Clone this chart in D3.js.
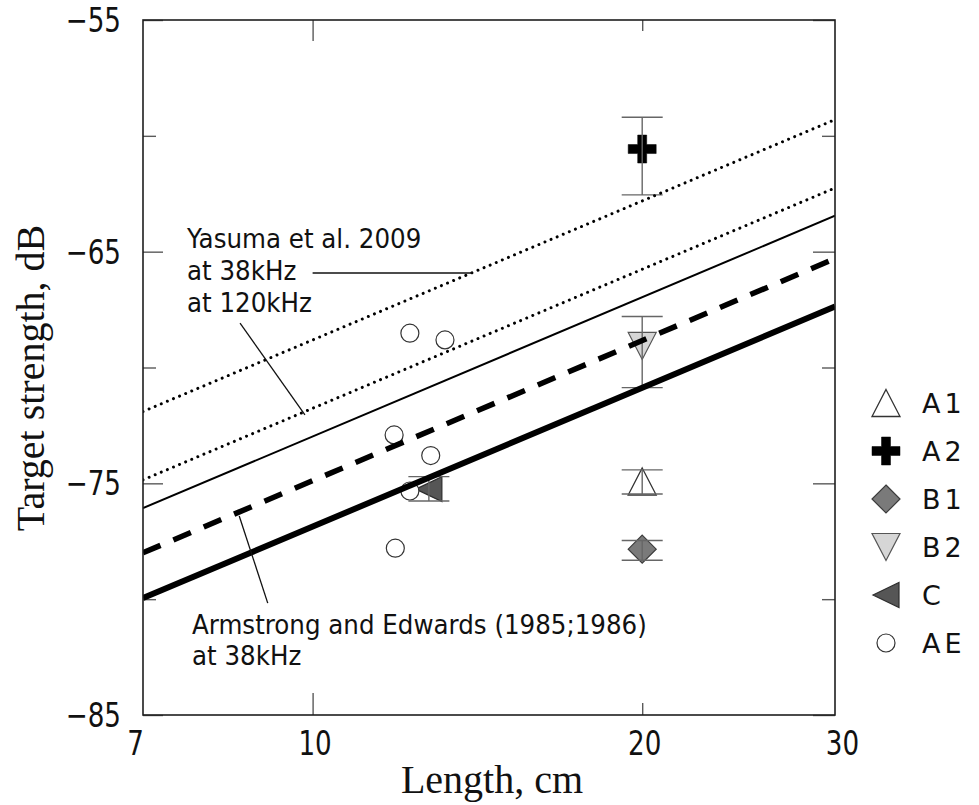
<!DOCTYPE html>
<html>
<head>
<meta charset="utf-8">
<script src="https://cdn.jsdelivr.net/npm/d3@7"></script>
<style>
  html, body { margin: 0; padding: 0; background: #fff; }
  svg { display: block; }
</style>
</head>
<body>
<svg id="chart" width="979" height="805"></svg>
<script>
// ---- data -------------------------------------------------------------
// Axis ticks
const xTickLabels = [7, 10, 20, 30];
const xMajorTicks = [10];
const xMinorTicks = [20];
const yTickLabels = [-85, -75, -65, -55];
const yMinorTicks = [-80, -70, -60];

// Observed target strength by group: body length (cm), mean TS (dB),
// lower and upper error limits (dB)
const seriesNames = ["A1", "A2", "B1", "B2", "C", "AE"];
const a1Length = [20],    a1TS = [-74.92], a1Lo = [-75.46], a1Hi = [-74.42];
const a2Length = [20],    a2TS = [-60.57], a2Lo = [-62.55], a2Hi = [-59.20];
const b1Length = [20],    b1TS = [-77.84], b1Lo = [-78.32], b1Hi = [-77.47];
const b2Length = [20],    b2TS = [-69.07], b2Lo = [-70.87], b2Hi = [-67.80];
const cLength  = [12.77], cTS  = [-75.25], cLo  = [-75.76], cHi  = [-74.71];
const aeLength = [12.27, 13.21, 11.87, 12.82, 12.27, 11.90];
const aeTS     = [-68.52, -68.81, -72.91, -73.80, -75.33, -77.80];

// TS-length relationships: TS at L = 7 cm and L = 30 cm
const relNames  = ["Yasuma 38kHz", "Yasuma 120kHz", "Model", "Armstrong and Edwards 38kHz", "Model 2"];
const relLength = [7, 30];
const relTS = [
  [-71.90, -59.30],
  [-74.85, -62.25],
  [-76.07, -63.45],
  [-78.00, -65.30],
  [-79.95, -67.37]
];

// ---- layout ----------------------------------------------------------
const W = 979, H = 805;
const plot = { left: 143, top: 20, right: 835, bottom: 715 };

const svg = d3.select("#chart");
svg.append("rect").attr("width", W).attr("height", H).attr("fill", "#fff");

const x = d3.scaleLog().domain([7, 30]).range([plot.left, plot.right]);
const y = d3.scaleLinear().domain([-85, -55]).range([plot.bottom, plot.top]);

const sansFont = "'DejaVu Sans', sans-serif";
const tickColor = "#5a5a5a";
// horizontal squeeze giving the narrow sans lettering
const tickSqueeze = 0.77;
const annoSqueeze = 0.91;

// ---- tick marks (inside the frame, all four sides) --------------------
function drawTicks(axisFn, scale, values, size, translate) {
  const g = svg.append("g")
    .attr("transform", translate)
    .call(axisFn(scale).tickValues(values).tickSize(size).tickSizeOuter(0).tickFormat(""));
  g.select(".domain").remove();
  g.selectAll(".tick line").attr("stroke", tickColor).attr("stroke-width", 1.4);
}

// bottom / top
drawTicks(d3.axisBottom, x, xMajorTicks, -22, `translate(0,${plot.bottom})`);
drawTicks(d3.axisBottom, x, xMinorTicks, -12, `translate(0,${plot.bottom})`);
drawTicks(d3.axisTop, x, xMajorTicks, -21, `translate(0,${plot.top})`);
drawTicks(d3.axisTop, x, xMinorTicks, -11, `translate(0,${plot.top})`);
// left / right
drawTicks(d3.axisLeft, y, yTickLabels, -20, `translate(${plot.left},0)`);
drawTicks(d3.axisLeft, y, yMinorTicks, -13, `translate(${plot.left},0)`);
drawTicks(d3.axisRight, y, yTickLabels, -22, `translate(${plot.right},0)`);
drawTicks(d3.axisRight, y, yMinorTicks, -13, `translate(${plot.right},0)`);

// ---- tick labels ------------------------------------------------------
const xLab = svg.append("g")
  .attr("transform", `translate(0,${plot.bottom})`)
  .call(d3.axisBottom(x).tickValues(xTickLabels).tickSize(0).tickPadding(0).tickFormat(d3.format("d")));
xLab.select(".domain").remove();
xLab.selectAll(".tick text")
  .attr("y", 40).attr("dy", 0)
  .attr("x", (d, i) => (i === 0 ? -8 : (i === xTickLabels.length - 1 ? 7 : 2)) / tickSqueeze)
  .attr("transform", `scale(${tickSqueeze},1)`)
  .attr("font-family", sansFont).attr("font-size", 34).attr("fill", "#111");

const yLab = svg.append("g")
  .attr("transform", `translate(${plot.left},0)`)
  .call(d3.axisLeft(y).tickValues(yTickLabels).tickSize(0).tickPadding(0).tickFormat(d => "\u2212" + Math.abs(d)));
yLab.select(".domain").remove();
yLab.selectAll(".tick text")
  .attr("x", -22 / tickSqueeze)
  .attr("dy", 11.5)
  .attr("transform", `scale(${tickSqueeze},1)`)
  .attr("font-family", sansFont).attr("font-size", 34).attr("fill", "#111");

// ---- axis titles ------------------------------------------------------
svg.append("text")
  .attr("x", 492).attr("y", 793)
  .attr("text-anchor", "middle")
  .attr("font-family", "'Liberation Serif', 'Times New Roman', serif")
  .attr("font-size", 40).attr("fill", "#111")
  .text("Length, cm");

svg.append("text")
  .attr("transform", "translate(44,378) rotate(-90)")
  .attr("text-anchor", "middle")
  .attr("font-family", "'Liberation Serif', 'Times New Roman', serif")
  .attr("font-size", 40).attr("fill", "#111")
  .text("Target strength, dB");

// ---- marker shapes ----------------------------------------------------
const shapes = {
  triUp:   (w, h) => `M0,${-h/2}L${w/2},${h/2}L${-w/2},${h/2}Z`,
  triDown: (w, h) => `M${-w/2},${-h/2}L${w/2},${-h/2}L0,${h/2}Z`,
  triLeft: (w, h) => `M${-w/2},0L${w/2},${-h/2}L${w/2},${h/2}Z`,
  diamond: (r)    => `M0,${-r}L${r},0L0,${r}L${-r},0Z`,
  plus:    (s, t) => {
    const a = s / 2, b = t / 2;
    return `M${-b},${-a}H${b}V${-b}H${a}V${b}H${b}V${a}H${-b}V${b}H${-a}V${-b}H${-b}Z`;
  },
  circle:  (r)    => `M${r},0A${r},${r} 0 1,1 ${-r},0A${r},${r} 0 1,1 ${r},0Z`
};

const seriesStyle = {
  A1: { d: shapes.triUp(28, 27),   fill: "#ffffff", stroke: "#333", sw: 1.3 },
  A2: { d: shapes.plus(28, 9),     fill: "#000000", stroke: "#000", sw: 0.5 },
  B1: { d: shapes.diamond(14),     fill: "#7a7a7a", stroke: "#3c3c3c", sw: 1.2 },
  B2: { d: shapes.triDown(28, 27), fill: "#d6d6d6", stroke: "#555", sw: 1.2 },
  C:  { d: shapes.triLeft(26, 25), fill: "#565656", stroke: "#2e2e2e", sw: 1.2 },
  AE: { d: shapes.circle(9),       fill: "#ffffff", stroke: "#333", sw: 1.2 }
};

const seriesData = {
  A1: a1Length.map((L, i) => ({ L, ts: a1TS[i], lo: a1Lo[i], hi: a1Hi[i] })),
  A2: a2Length.map((L, i) => ({ L, ts: a2TS[i], lo: a2Lo[i], hi: a2Hi[i] })),
  B1: b1Length.map((L, i) => ({ L, ts: b1TS[i], lo: b1Lo[i], hi: b1Hi[i] })),
  B2: b2Length.map((L, i) => ({ L, ts: b2TS[i], lo: b2Lo[i], hi: b2Hi[i] })),
  C:  cLength.map((L, i)  => ({ L, ts: cTS[i],  lo: cLo[i],  hi: cHi[i] })),
  AE: aeLength.map((L, i) => ({ L, ts: aeTS[i] }))
};

// ---- markers, then error bars over them -------------------------------
const markG = svg.append("g");
seriesNames.forEach(name => {
  const st = seriesStyle[name];
  markG.selectAll(null).data(seriesData[name]).join("path")
    .attr("d", st.d)
    .attr("transform", d => `translate(${x(d.L)},${y(d.ts)})`)
    .attr("fill", st.fill).attr("stroke", st.stroke).attr("stroke-width", st.sw);
});

const capHalf = 20.5;
const errG = svg.append("g").attr("stroke", "#666").attr("stroke-width", 1.4).attr("fill", "none");
seriesNames.forEach(name => {
  const pts = seriesData[name].filter(d => d.lo !== undefined);
  pts.forEach(d => {
    const cx = x(d.L);
    errG.append("line").attr("x1", cx).attr("x2", cx).attr("y1", y(d.lo)).attr("y2", y(d.hi));
    [d.lo, d.hi].forEach(v => {
      errG.append("line").attr("x1", cx - capHalf).attr("x2", cx + capHalf)
        .attr("y1", y(v)).attr("y2", y(v));
    });
  });
});

// ---- TS-length relationships ------------------------------------------
svg.append("clipPath").attr("id", "plotClip")
  .append("rect").attr("x", plot.left).attr("y", plot.top)
  .attr("width", plot.right - plot.left).attr("height", plot.bottom - plot.top);

const relStyle = [
  { width: 3,   dash: "0.01 6.6", cap: "round" },
  { width: 3,   dash: "0.01 6.6", cap: "round" },
  { width: 2,   dash: null,       cap: "butt" },
  { width: 5.5, dash: "19 14",    cap: "butt" },
  { width: 6,   dash: null,       cap: "butt" }
];

const line = d3.line().x(d => x(d[0])).y(d => y(d[1]));
const relG = svg.append("g").attr("clip-path", "url(#plotClip)");
relTS.forEach((ts, i) => {
  const st = relStyle[i];
  relG.append("path")
    .datum(relLength.map((L, j) => [L, ts[j]]))
    .attr("d", line)
    .attr("fill", "none").attr("stroke", "#000")
    .attr("stroke-width", st.width)
    .attr("stroke-linecap", st.cap)
    .attr("stroke-dasharray", st.dash);
});

// ---- frame -------------------------------------------------------------
svg.append("rect")
  .attr("x", plot.left).attr("y", plot.top)
  .attr("width", plot.right - plot.left).attr("height", plot.bottom - plot.top)
  .attr("fill", "none").attr("stroke", "#1e1e1e").attr("stroke-width", 1.6);

// ---- annotations -------------------------------------------------------
function squeezedText(g, lines, left, top, step) {
  g.selectAll(null).data(lines).join("text")
    .attr("transform", `scale(${annoSqueeze},1)`)
    .attr("x", left / annoSqueeze)
    .attr("y", (d, i) => top + i * step)
    .text(d => d);
}
const annoG = svg.append("g").attr("font-family", sansFont).attr("font-size", 27).attr("fill", "#111");
squeezedText(annoG, ["Yasuma et al. 2009", "at 38kHz", "at 120kHz"], plot.left + 44, 248, 32);
squeezedText(annoG, ["Armstrong and Edwards (1985;1986)", "at 38kHz"], plot.left + 49, 634, 31);

// leader lines, anchored in data coordinates
const leaders = [
  [[10.0, -65.92], [14.0, -65.92]],
  [[8.585, -68.08], [9.84, -72.05]],
  [[8.57, -76.41], [9.10, -80.17]]
];
svg.append("g").selectAll("path").data(leaders).join("path")
  .attr("d", line)
  .attr("fill", "none").attr("stroke", "#111").attr("stroke-width", 1.3);

// ---- legend ------------------------------------------------------------
const legend = svg.append("g").attr("transform", "translate(886,403)");
seriesNames.forEach((name, i) => {
  const st = seriesStyle[name];
  const row = legend.append("g").attr("transform", `translate(0,${i * 48})`);
  row.append("path").attr("d", st.d)
    .attr("fill", st.fill).attr("stroke", st.stroke).attr("stroke-width", st.sw);
  row.append("text")
    .attr("x", 36).attr("y", 10)
    .attr("font-family", sansFont).attr("font-size", 27)
    .attr("letter-spacing", 4)
    .attr("fill", "#111")
    .text(name);
});
</script>
</body>
</html>
